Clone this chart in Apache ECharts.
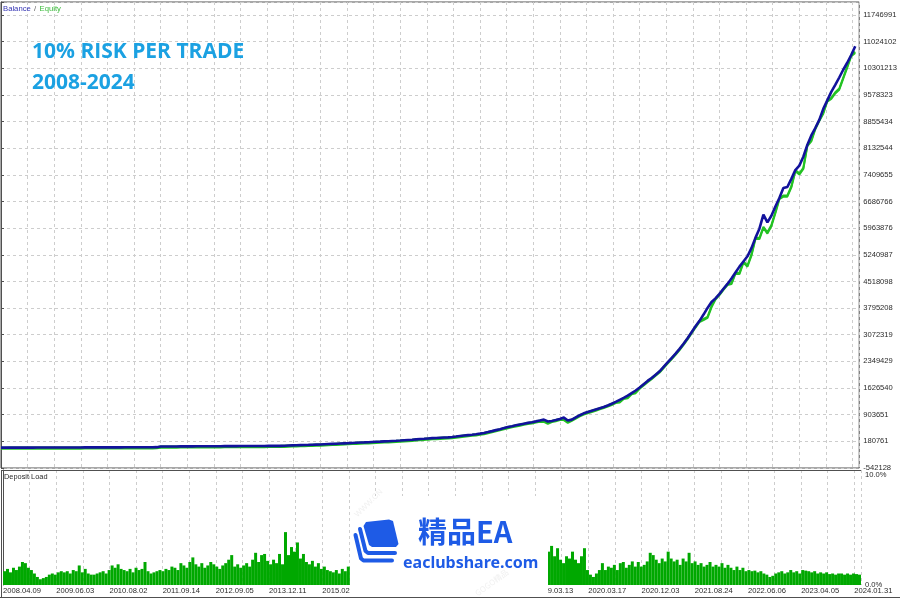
<!DOCTYPE html>
<html><head><meta charset="utf-8">
<script src="https://cdn.jsdelivr.net/npm/echarts@6/dist/echarts.min.js"></script>
<style>html,body{margin:0;padding:0;background:#fff}#c{width:900px;height:600px}</style>
</head><body><div id="c"></div>
<script>
// ---------- DATA ----------
const balance = [
10000,10300,10700,11000,11400,11800,11600,11300,11500,11900,
12200,12600,12900,13300,13600,14000,14300,14700,15000,15400,
15700,16000,16300,16600,16900,17200,17400,17700,18000,18300,
18600,18900,19200,19500,19800,20100,20400,20700,21000,
23000,40000,
41000,41700,42300,43000,43600,44200,44800,45400,46000,46600,
47200,47800,48400,49000,49600,50200,50800,51400,52000,52600,
53200,53800,54400,55000,55600,56200,56800,57400,58000,58700,
63000,67000,71000,74000,78000,82000,85000,89000,93000,97000,
102000,107000,112000,117000,122000,127000,132000,138000,143000,148000,
152000,157000,163000,169000,174000,180000,185000,190000,195000,202000,
210000,218000,226000,235000,243000,251000,260000,267000,273000,279000,
284000,289000,300000,312000,325000,338000,350000,362000,375000,390000,
408000,432000,458000,485000,512000,540000,570000,592000,615000,638000,
660000,682000,700000,722000,745000,770000,720000,735000,760000,790000,
825000,745000,770000,830000,890000,940000,975000,1010000,1045000,1080000,
1115000,1155000,1200000,1250000,1305000,1360000,1420000,1490000,1560000,1640000,
1730000,1820000,1900000,1990000,2080000,2200000,2320000,2440000,2560000,2690000,
2830000,2980000,3140000,3300000,3450000,3620000,3800000,3960000,4060000,4180000,
4320000,4450000,4600000,4760000,4920000,5060000,5200000,5420000,5700000,5950000,
6330000,6120000,6300000,6550000,6780000,7050000,7080000,7300000,7540000,7660000,
7900000,8220000,8480000,8680000,8900000,9200000,9430000,9660000,9850000,10050000,
10260000,10450000,10660000,10900000
];
const equity = [
10000,10300,10700,11000,11400,11800,11600,11300,11500,11900,
12200,12600,12900,13300,13600,14000,14300,14700,15000,15400,
15700,16000,16300,16600,16900,17200,17400,17700,18000,18300,
18600,18900,19200,19500,19800,20100,20400,20700,21000,
23000,40000,
41000,41700,42300,43000,43600,44200,44800,45400,46000,46600,
47200,47800,48400,49000,49600,50200,50800,51400,52000,52600,
53200,53800,54400,55000,55600,56200,56800,57400,58000,58700,
63000,67000,71000,74000,78000,82000,85000,89000,93000,97000,
102000,107000,112000,117000,122000,127000,132000,138000,143000,148000,
152000,157000,163000,169000,174000,180000,185000,190000,195000,202000,
210000,218000,226000,235000,243000,251000,260000,267000,273000,279000,
284000,289000,300000,312000,325000,338000,350000,362000,375000,390000,
408000,432000,458000,485000,512000,540000,570000,592000,615000,638000,
660000,682000,700000,722000,745000,740000,690000,735000,760000,790000,
790000,715000,770000,830000,890000,940000,975000,1010000,1045000,1080000,
1115000,1155000,1200000,1250000,1270000,1360000,1380000,1490000,1520000,1640000,
1730000,1820000,1900000,1990000,2080000,2200000,2320000,2440000,2560000,2690000,
2830000,2980000,3140000,3300000,3450000,3500000,3560000,3850000,4060000,4180000,
4320000,4450000,4480000,4760000,4750000,5060000,4950000,5250000,5700000,5700000,
6000000,5850000,6050000,6400000,6780000,6850000,6850000,7100000,7540000,7450000,
7600000,8220000,8350000,8680000,8900000,9100000,9430000,9500000,9650000,9750000,
10050000,10350000,10660000,10750000
];
const depositLoad = [
1.2,1.4,1.1,1.5,1.3,1.6,2.0,1.9,1.5,1.3,
1.0,0.7,0.5,0.6,0.7,0.9,1.0,0.9,1.1,1.2,
1.1,1.2,1.0,1.3,1.2,1.7,1.1,1.4,1.0,0.9,
0.9,1.0,1.1,1.2,1.0,1.3,1.7,1.5,1.8,1.4,
1.3,1.2,1.4,1.1,1.5,1.3,1.4,2.0,1.2,1.0,
1.1,1.2,1.3,1.2,1.4,1.3,1.6,1.5,1.3,1.9,
1.7,1.5,2.0,2.4,1.8,1.6,1.9,1.5,1.7,2.0,
1.8,1.6,1.4,1.7,1.9,2.2,2.6,1.6,1.8,1.5,
1.7,1.9,1.6,2.2,2.8,2.0,2.6,2.7,2.1,1.8,
2.2,1.9,2.7,1.8,4.6,2.6,3.3,2.9,3.7,2.3,
2.7,2.0,1.8,2.1,1.6,1.9,1.4,1.6,1.3,1.2,
1.1,1.3,1.0,1.4,1.2,1.6,1.5,
1.5,1.3,1.7,1.4,1.2,1.6,1.9,1.5,1.3,1.8,
2.1,1.6,1.4,1.7,1.5,1.9,2.3,1.8,1.6,1.4,
1.7,2.0,1.8,1.5,2.2,1.9,1.6,1.8,2.4,2.0,
1.7,1.9,2.2,1.8,2.5,2.1,1.9,2.3,2.0,1.7,
2.2,2.6,2.1,1.9,2.4,2.0,2.3,2.8,2.2,1.9,
2.5,2.1,2.4,2.9,2.3,2.0,2.6,3.0,2.4,2.2,
2.7,2.5,3.1,2.6,2.3,2.9,
3.4,2.5,3.2,2.2,1.9,2.5,2.3,2.9,2.2,1.9,2.5,3.2,
1.3,0.9,0.7,1.0,1.3,1.9,1.3,1.6,1.5,1.75,
1.3,1.9,2.0,1.5,1.75,2.05,1.6,2.0,1.6,1.75,
2.05,2.8,2.6,2.2,1.9,2.3,2.05,2.9,2.3,2.05,
2.2,1.75,2.3,2.05,2.8,1.9,2.05,1.75,1.9,1.6,
1.75,2.0,1.6,1.75,1.6,1.9,1.5,1.75,1.5,1.3,
1.6,1.3,1.5,1.2,1.3,1.2,1.25,1.1,1.2,1.0,
0.9,0.7,0.8,1.0,1.1,1.2,1.0,1.1,1.3,1.1,
1.2,1.0,1.3,1.25,1.2,1.1,1.2,1.0,1.1,1.0,
1.1,0.95,1.0,0.9,1.0,1.0,0.9,1.0,0.9,1.0,
0.95,0.9
];
const yTickLabels = ['-542128','180761','903651','1626540','2349429','3072319','3795208','4518098',
  '5240987','5963876','6686766','7409655','8132544','8855434','9578323','10301213','11024102','11746991'];
const loadTickLabels = ['0.0%','10.0%'];
const dateLabels = ['2008.04.09','2009.06.03','2010.08.02','2011.09.14','2012.09.05','2013.12.11',
  '2015.02.26','2016.03.09','2017.02.21','2018.03.06','2019.03.13','2020.03.17','2020.12.03',
  '2021.08.24','2022.06.06','2023.04.05','2024.01.31'];

// ---------- CHART ----------
const FONT = 'Liberation Sans';
const TXT = '#2a2a2a';
const gridLine = {show:true, lineStyle:{color:'#cdcdcd', type:[3,3], width:1}};
const BLUE = '#1e5be6';
const chart = echarts.init(document.getElementById('c'), null, {renderer:'canvas'});

const option = {
  animation:false,
  backgroundColor:'#ffffff',
  grid:[
    {left:1, top:2, width:860, height:466, show:true, borderColor:'#505050', borderWidth:1, backgroundColor:'transparent'},
    {left:1, top:470, width:860, height:115, show:false}
  ],
  xAxis:[
    {gridIndex:0, type:'value', min:0, max:215, show:false},
    {gridIndex:0, type:'value', position:'top', min:0, max:32.25, interval:1,
      axisLine:{show:false}, axisTick:{show:false}, axisLabel:{show:false}, splitLine:gridLine},
    {gridIndex:1, type:'category', data:depositLoad.map((_, i) => i), boundaryGap:true, show:false},
    {gridIndex:1, type:'value', position:'bottom', min:0, max:32.25, interval:1,
      axisLine:{show:false}, axisTick:{show:false},
      axisLabel:{show:true, margin:2, align:'left', fontSize:7.6, fontFamily:FONT, color:TXT,
        formatter:(v) => (Number.isInteger(v) && v % 2 === 0 && dateLabels[v/2]) ? dateLabels[v/2] : ''},
      splitLine:gridLine}
  ],
  yAxis:[
    {gridIndex:0, type:'value', position:'right', min:-542128, max:12098000, interval:722889.35,
      axisLine:{show:true, lineStyle:{color:'#505050'}},
      axisTick:{show:true, length:3, lineStyle:{color:'#505050'}},
      axisLabel:{margin:4, fontSize:7.6, fontFamily:FONT, color:TXT,
        formatter:(v, i) => yTickLabels[i] !== undefined ? yTickLabels[i] : ''},
      splitLine:gridLine},
    {gridIndex:1, type:'value', position:'right', min:0, max:10, interval:10,
      axisLine:{show:true, lineStyle:{color:'#505050'}},
      axisTick:{show:false},
      axisLabel:{margin:4, fontSize:7.6, fontFamily:FONT, color:TXT,
        formatter:(v) => v === 10 ? '{t|' + loadTickLabels[1] + '}' : '{b|' + loadTickLabels[0] + '}',
        rich:{t:{fontSize:7.6, fontFamily:FONT, color:TXT, padding:[10,0,0,0]},
              b:{fontSize:7.6, fontFamily:FONT, color:TXT}}},
      splitLine:{show:false}}
  ],
  series:[
    {type:'bar', xAxisIndex:2, yAxisIndex:1, data:depositLoad, barWidth:'100%',
      itemStyle:{color:'#00a800'}, silent:true},
    {type:'line', xAxisIndex:0, yAxisIndex:0, data:equity.map((v, i) => [i, v]),
      symbol:'none', lineStyle:{color:'#22c222', width:2, shadowColor:'#22c222', shadowBlur:0, shadowOffsetY:1.2}},
    {type:'line', xAxisIndex:0, yAxisIndex:0, data:balance.map((v, i) => [i, v]),
      symbol:'none', lineStyle:{color:'#12129c', width:2.6}}
  ],
  graphic:[
    // panel frames
    {type:'line', z:50, shape:{x1:1, y1:470.5, x2:861, y2:470.5}, style:{stroke:'#505050', lineWidth:1}},
    {type:'line', z:50, shape:{x1:1.5, y1:470, x2:1.5, y2:598}, style:{stroke:'#505050', lineWidth:1}},
    {type:'line', z:50, shape:{x1:0, y1:597.5, x2:900, y2:597.5}, style:{stroke:'#505050', lineWidth:1}},
    // legend
    {type:'text', z:60, x:3, y:9, style:{text:'{b|Balance} {s|/} {e|Equity}', verticalAlign:'middle',
      rich:{b:{fill:'#3434b4', font:'7.7px ' + FONT}, s:{fill:'#606060', font:'7.7px ' + FONT}, e:{fill:'#3cbc3c', font:'7.7px ' + FONT}}}},
    {type:'text', z:60, x:4, y:477, style:{text:'Deposit Load', fill:TXT, font:'7.4px ' + FONT, verticalAlign:'middle'}},
    // title
    {type:'text', z:60, x:32, y:52, style:{text:'10% RISK PER TRADE', fill:'#1ba1e2', font:'bold 21px "Open Sans"', verticalAlign:'middle'}},
    {type:'text', z:60, x:32, y:83, style:{text:'2008-2024', fill:'#1ba1e2', font:'bold 21px "Open Sans"', verticalAlign:'middle'}},
    // watermark logo
    {type:'rect', z:100, shape:{x:350, y:496, width:198, height:100}, style:{fill:'#ffffff'}},
    {type:'text', z:101, x:356, y:516, rotation:Math.PI/4, style:{text:'WWW.CN', fill:'#f0f0f0', font:'8px ' + FONT, verticalAlign:'middle'}},
    {type:'text', z:101, x:476, y:594, rotation:Math.PI/5, style:{text:'GOGO精品', fill:'#f0f0f0', font:'8px "Noto Sans CJK SC"', verticalAlign:'middle'}},
    {type:'polygon', z:102, shape:{points:[[366,522],[389,519.5],[393,521],[398.5,544],[396,547],[372,547],[369,545],[363.5,526]]}, style:{fill:BLUE}},
    {type:'polyline', z:102, shape:{points:[[360,529],[365.5,551],[368,553],[395,553]]}, style:{stroke:BLUE, lineWidth:4, lineCap:'round', lineJoin:'round', fill:null}},
    {type:'polyline', z:102, shape:{points:[[355.5,535],[361,558.5],[363.5,560.5],[392,560.5]]}, style:{stroke:BLUE, lineWidth:4, lineCap:'round', lineJoin:'round', fill:null}},
    {type:'text', z:102, x:418, y:532, style:{text:'精品EA', fill:BLUE, font:'bold 29px "Noto Sans CJK SC"', verticalAlign:'middle'}},
    {type:'text', z:102, x:403, y:563, style:{text:'eaclubshare.com', fill:BLUE, font:'bold 16px "Noto Sans"', verticalAlign:'middle'}}
  ]
};
chart.setOption(option);
</script>
</body></html>
